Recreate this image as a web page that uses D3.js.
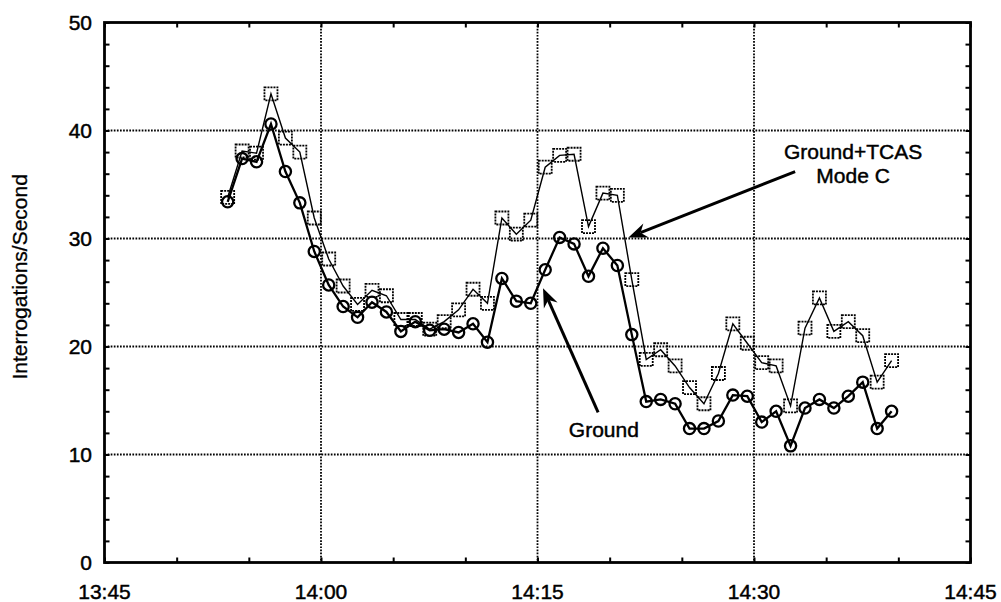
<!DOCTYPE html>
<html>
<head>
<meta charset="utf-8">
<script src="https://cdn.jsdelivr.net/npm/d3@7"></script>
<style>
  html, body { margin: 0; padding: 0; background: #fff; }
  svg { display: block; }
  text { font-family: "Liberation Sans", Arial, Helvetica, sans-serif; fill: #000; stroke: #000; stroke-width: 0.45px; }
</style>
</head>
<body>
<script>
// ---------------- DATA ----------------
const times = [
  "13:53:32","13:54:32","13:55:32","13:56:32","13:57:32","13:58:32","13:59:32",
  "14:00:32","14:01:32","14:02:32","14:03:32","14:04:32","14:05:32","14:06:32",
  "14:07:32","14:08:32","14:09:32","14:10:32","14:11:32","14:12:32","14:13:32",
  "14:14:32","14:15:32","14:16:32","14:17:32","14:18:32","14:19:32","14:20:32",
  "14:21:32","14:22:32","14:23:32","14:24:32","14:25:32","14:26:32","14:27:32",
  "14:28:32","14:29:32","14:30:32","14:31:32","14:32:32","14:33:32","14:34:32",
  "14:35:32","14:36:32","14:37:32","14:38:32","14:39:32"
];
const groundTcas = [
  33.8, 38.1, 37.9, 43.4, 39.3, 38.0, 31.9, 28.1, 25.6, 23.9, 25.2, 24.7,
  22.5, 22.5, 21.6, 22.3, 23.4, 25.3, 24.0, 31.9, 30.4, 31.7, 36.6, 37.7,
  37.8, 31.1, 34.2, 34.0, 26.2, 18.8, 19.7, 18.2, 16.2, 14.7, 17.5, 22.1,
  20.3, 18.5, 18.2, 14.5, 21.7, 24.5, 21.4, 22.3, 21.0, 16.7, 18.7
];
const ground = [
  33.4, 37.4, 37.1, 40.6, 36.2, 33.3, 28.8, 25.7, 23.7, 22.7, 24.1, 23.2,
  21.4, 22.3, 21.5, 21.6, 21.3, 22.1, 20.4, 26.3, 24.2, 24.0, 27.1, 30.1,
  29.5, 26.5, 29.1, 27.5, 21.1, 14.9, 15.1, 14.7, 12.4, 12.4, 13.1, 15.5,
  15.4, 13.0, 14.0, 10.8, 14.3, 15.1, 14.3, 15.4, 16.7, 12.4, 14.0
];
const xTickLabels = ["13:45", "14:00", "14:15", "14:30", "14:45"];
const yTickValues = [0, 10, 20, 30, 40, 50];
const yAxisTitle = "Interrogations/Second";

// annotations (data coordinates)
const groundLabel = { text: "Ground", t: "14:19:36", v: 11.6 };
const groundArrow = { fromT: "14:19:12", fromV: 13.9, toT: "14:15:23", toV: 25.4 };
const tcasLabel = { lines: ["Ground+TCAS", "Mode C"], t: "14:36:52", v: [37.4, 35.1] };
const tcasArrow = { fromT: "14:32:51", fromV: 36.2, toT: "14:21:18", toV: 30.1 };

// ---------------- LAYOUT ----------------
const W = 1001, H = 602;
const plot = { left: 104.5, right: 970.5, top: 22.5, bottom: 562.5 };
const parse = d3.timeParse("%H:%M:%S");
const parseHM = d3.timeParse("%H:%M");

const x = d3.scaleTime()
  .domain([parseHM(xTickLabels[0]), parseHM(xTickLabels[xTickLabels.length - 1])])
  .range([plot.left, plot.right]);
const y = d3.scaleLinear().domain([0, 50]).range([plot.bottom, plot.top]);

const svg = d3.select("body").append("svg").attr("width", W).attr("height", H);
svg.append("rect").attr("width", W).attr("height", H).attr("fill", "#fff");

const majorX = xTickLabels.map(parseHM);
const minorX = d3.timeMinute.every(5).range(majorX[0], d3.timeMinute.offset(majorX[majorX.length - 1], 1));
const minorY = d3.range(0, 51, 2);

// grid lines (dotted)
const grid = svg.append("g").attr("stroke", "#000").attr("stroke-width", 1.8)
  .attr("stroke-dasharray", "1.7,1.4");
grid.selectAll("line.gx").data(majorX.slice(1, -1)).join("line")
  .attr("x1", d => x(d)).attr("x2", d => x(d))
  .attr("y1", plot.top).attr("y2", plot.bottom);
grid.selectAll("line.gy").data(yTickValues.slice(1, -1)).join("line")
  .attr("x1", plot.left).attr("x2", plot.right)
  .attr("y1", d => y(d)).attr("y2", d => y(d));

// axes via d3 (inner ticks)
const tickLen = 5;
svg.append("g").attr("transform", `translate(0,${plot.bottom})`)
  .call(d3.axisBottom(x).tickValues(minorX).tickSize(-tickLen).tickFormat(""))
  .call(g => g.select(".domain").remove());
svg.append("g").attr("transform", `translate(0,${plot.top})`)
  .call(d3.axisTop(x).tickValues(minorX).tickSize(-tickLen).tickFormat(""))
  .call(g => g.select(".domain").remove());
svg.append("g").attr("transform", `translate(${plot.left},0)`)
  .call(d3.axisLeft(y).tickValues(minorY).tickSize(-tickLen).tickFormat(""))
  .call(g => g.select(".domain").remove());
svg.append("g").attr("transform", `translate(${plot.right},0)`)
  .call(d3.axisRight(y).tickValues(minorY).tickSize(-tickLen).tickFormat(""))
  .call(g => g.select(".domain").remove());
svg.selectAll(".tick line").attr("stroke", "#000").attr("stroke-width", 2);

// tick labels
svg.append("g").selectAll("text").data(majorX).join("text")
  .attr("x", d => x(d)).attr("y", 599)
  .attr("text-anchor", "middle").attr("font-size", 21)
  .text((d, i) => xTickLabels[i]);
svg.append("g").selectAll("text").data(yTickValues).join("text")
  .attr("x", 92).attr("y", d => y(d)).attr("dy", "0.36em")
  .attr("text-anchor", "end").attr("font-size", 21)
  .text(d => d);

// axis title
svg.append("text")
  .attr("transform", `translate(27,${(381.7 + 172) / 2}) rotate(-90)`)
  .attr("text-anchor", "middle").attr("font-size", 21)
  .style("stroke-width", "0.3px")
  .text(yAxisTitle);

// frame
svg.append("rect")
  .attr("x", plot.left).attr("y", plot.top)
  .attr("width", plot.right - plot.left).attr("height", plot.bottom - plot.top)
  .attr("fill", "none").attr("stroke", "#000").attr("stroke-width", 2.8);

// ---------------- SERIES ----------------
const tcasData = times.map((t, i) => ({ t: parse(t), v: groundTcas[i] }));
const groundData = times.map((t, i) => ({ t: parse(t), v: ground[i] }));
const line = d3.line().x(d => x(d.t)).y(d => y(d.v));

svg.append("path").datum(tcasData).attr("d", line)
  .attr("fill", "none").attr("stroke", "#000").attr("stroke-width", 1.4);
svg.append("g").selectAll("rect").data(tcasData).join("rect")
  .attr("x", d => x(d.t) - 6.5).attr("y", d => y(d.v) - 6.5)
  .attr("width", 13).attr("height", 13)
  .attr("fill", "none").attr("stroke", "#000").attr("stroke-width", 1.8)
  .attr("stroke-dasharray", "2,1");

svg.append("path").datum(groundData).attr("d", line)
  .attr("fill", "none").attr("stroke", "#000").attr("stroke-width", 2.3);
svg.append("g").selectAll("circle").data(groundData).join("circle")
  .attr("cx", d => x(d.t)).attr("cy", d => y(d.v)).attr("r", 5.6)
  .attr("fill", "none").attr("stroke", "#000").attr("stroke-width", 2.3);

// ---------------- ANNOTATIONS ----------------
function arrow(a) {
  const x1 = x(parse(a.fromT)), y1 = y(a.fromV);
  const x2 = x(parse(a.toT)), y2 = y(a.toV);
  const ang = Math.atan2(y2 - y1, x2 - x1);
  const L = 19, hw = 7.5, notch = 6;
  const bx = x2 - L * Math.cos(ang), by = y2 - L * Math.sin(ang);
  const nx = x2 - (L - notch) * Math.cos(ang), ny = y2 - (L - notch) * Math.sin(ang);
  const px = -Math.sin(ang), py = Math.cos(ang);
  svg.append("line").attr("x1", x1).attr("y1", y1).attr("x2", nx).attr("y2", ny)
    .attr("stroke", "#000").attr("stroke-width", 3);
  svg.append("path")
    .attr("d", `M${x2},${y2} L${bx + px * hw},${by + py * hw} L${nx},${ny} L${bx - px * hw},${by - py * hw} Z`)
    .attr("fill", "#000");
}
arrow(groundArrow);
arrow(tcasArrow);

svg.append("text").attr("x", x(parse(groundLabel.t))).attr("y", y(groundLabel.v))
  .attr("text-anchor", "middle").attr("font-size", 21).text(groundLabel.text);
svg.append("g").selectAll("text").data(tcasLabel.lines).join("text")
  .attr("x", x(parse(tcasLabel.t))).attr("y", (d, i) => y(tcasLabel.v[i]))
  .attr("text-anchor", "middle").attr("font-size", 21).text(d => d);
</script>
</body>
</html>
